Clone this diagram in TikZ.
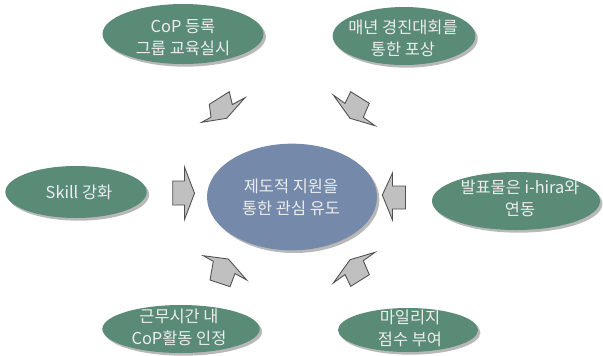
\documentclass[tikz,border=0pt]{standalone}
\usepackage{fontspec}
\setmainfont{Noto Sans CJK KR}
\usetikzlibrary{shapes.geometric,shadows}
\definecolor{ovgreen}{RGB}{90,139,118}
\definecolor{ovblue}{RGB}{117,138,170}
\definecolor{arrgray}{RGB}{192,192,192}
\definecolor{arredge}{RGB}{80,80,80}
\begin{document}
\begin{tikzpicture}[x=0.75pt,y=-0.75pt,
  oval/.style={ellipse, inner sep=0pt, fill=ovgreen,
    drop shadow={shadow xshift=1.8pt, shadow yshift=-2pt, opacity=0.28, fill=black}},
  centeroval/.style={oval, fill=ovblue},
  ovaltext/.style={inner sep=0pt, text=white!93!black, align=center,
    font=\fontsize{12.3}{16.5}\selectfont},
  blockarrow/.style={fill=arrgray, draw=arredge, line width=0.65pt, line join=miter}]
\useasboundingbox (0,0) rectangle (603,355);
% ovals
\node[oval, minimum width=120.75pt, minimum height=45pt] (cop) at (183,34) {};
\node[ovaltext] (cop-t) at (183,38) {CoP 등록\\그룹 교육실시};
\node[oval, minimum width=107pt, minimum height=43.5pt] (award) at (404,36) {};
\node[ovaltext] (award-t) at (403,38.5) {매년 경진대회를\\통한 포상};
\node[centeroval, minimum width=127.5pt, minimum height=80pt] (core) at (292,197) {};
\node[ovaltext] (core-t) at (291,197) {제도적 지원을\\통한 관심 유도};
\node[oval, minimum width=106pt, minimum height=39pt] (skill) at (76,192) {};
\node[ovaltext] (skill-t) at (79,192.5) {Skill 강화};
\node[oval, minimum width=126pt, minimum height=43.5pt] (ihira) at (516,201) {};
\node[ovaltext] (ihira-t) at (520,198) {발표물은 i-hira와\\연동};
\node[oval, minimum width=118pt, minimum height=36pt] (work) at (181,329) {};
\node[ovaltext] (work-t) at (179,327) {근무시간 내\\CoP활동 인정};
\node[oval, minimum width=105pt, minimum height=33pt] (mileage) at (408,330) {};
\node[ovaltext] (mileage-t) at (410,328) {마일리지\\점수 부여};
% block arrows
\draw[blockarrow] (201.7,122.3) -- (211,117.2) -- (209.3,104.3) -- (229.3,91.7) -- (232.3,104.6) -- (245,97.7) -- (226.7,118.3) -- cycle;
\draw[blockarrow] (333.3,95) -- (345,103.4) -- (350.7,91.7) -- (369.3,103.3) -- (363.3,117.3) -- (375,125.7) -- (350,118.3) -- cycle;
\draw[blockarrow] (203.3,255.7) -- (213.3,261.3) -- (210,280) -- (230,286.7) -- (235,273.5) -- (246.7,280) -- (228.3,259) -- cycle;
\draw[blockarrow] (333.3,283) -- (345,274.6) -- (350.7,286.3) -- (369.3,274.7) -- (363.3,260.7) -- (375,252.3) -- (350,259.7) -- cycle;
\draw[blockarrow] (172.7,181) -- (184.5,181) -- (184.5,167) -- (194.5,193.3) -- (184.5,219.5) -- (184.5,205) -- (172.7,205) -- cycle;
\draw[blockarrow] (405.5,186) -- (392.5,186) -- (392.5,173) -- (382.3,195) -- (392.5,220) -- (392.5,209) -- (405.5,209) -- cycle;
\end{tikzpicture}
\end{document}
